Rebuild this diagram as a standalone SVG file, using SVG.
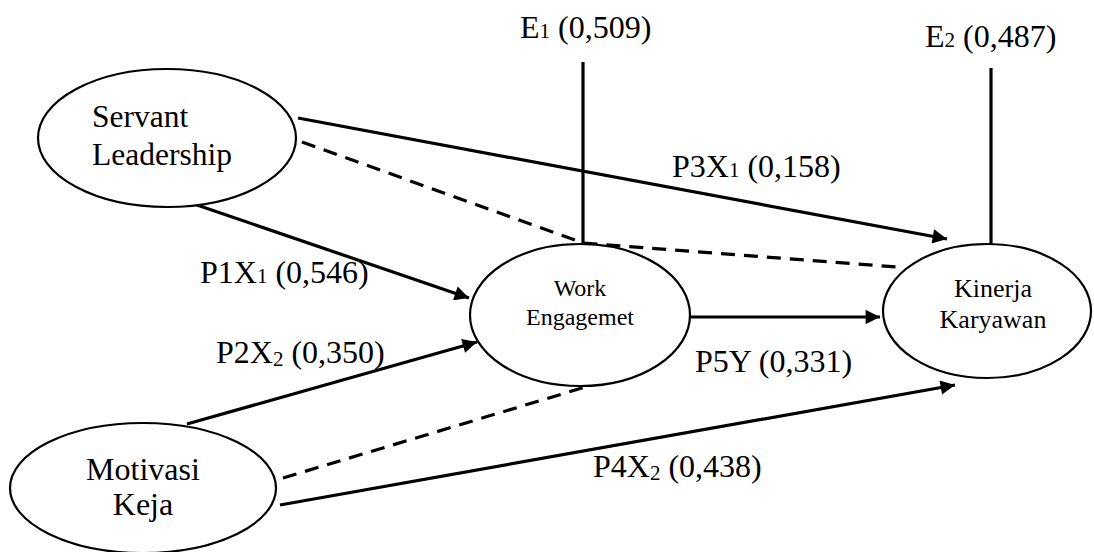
<svg xmlns="http://www.w3.org/2000/svg" width="1094" height="552" viewBox="0 0 1094 552">
<style>
.node{fill:#fff;stroke:#000;stroke-width:2.2}
.t{font-family:"Liberation Serif","Times New Roman",serif;fill:#000}
.lbl{font-size:32px}
.sub{font-size:21px}
.c{fill:none;stroke:#000;stroke-width:3.2}
.d{stroke-dasharray:14 9}
</style>
<defs>
<marker id="ah" viewBox="0 0 10 10" refX="10" refY="5" markerWidth="5.5" markerHeight="4.5" markerUnits="strokeWidth" orient="auto">
<path d="M0,0 L10,5 L0,10 z" fill="#000"/>
</marker>
</defs>
<g id="connectors">
<line class="c" x1="583" y1="62" x2="583" y2="243"/>
<line class="c" x1="991" y1="68" x2="991" y2="246"/>
<line class="c" x1="298" y1="118" x2="947" y2="239" marker-end="url(#ah)"/>
<polyline class="c d" points="302,142 583,243 897,267"/>
<line class="c" x1="197" y1="205" x2="469" y2="298" marker-end="url(#ah)"/>
<line class="c" x1="187" y1="424" x2="477" y2="342" marker-end="url(#ah)"/>
<line class="c d" x1="283" y1="478" x2="592" y2="385"/>
<line class="c" x1="280" y1="505" x2="955" y2="385" marker-end="url(#ah)"/>
<line class="c" x1="690" y1="317" x2="880" y2="317" marker-end="url(#ah)"/>
</g>
<g id="node-servant">
<ellipse class="node" cx="167" cy="138" rx="129" ry="69"/>
<text class="t" font-size="31.5" x="92" y="127">Servant</text>
<text class="t" font-size="31.5" x="92" y="165">Leadership</text>
</g>
<g id="node-work">
<ellipse class="node" cx="580" cy="315" rx="110" ry="71"/>
<text class="t" font-size="24" x="580" y="296" text-anchor="middle">Work</text>
<text class="t" font-size="24" x="580" y="325" text-anchor="middle">Engagemet</text>
</g>
<g id="node-kinerja">
<ellipse class="node" cx="987" cy="311" rx="104" ry="67"/>
<text class="t" font-size="26" x="993" y="297" text-anchor="middle">Kinerja</text>
<text class="t" font-size="26" x="993" y="328" text-anchor="middle">Karyawan</text>
</g>
<g id="node-motivasi">
<ellipse class="node" cx="143" cy="488" rx="133" ry="65"/>
<text class="t" font-size="32" x="143" y="480" text-anchor="middle">Motivasi</text>
<text class="t" font-size="32" x="143" y="515" text-anchor="middle">Keja</text>
</g>
<g id="labels">
<text class="t lbl" x="520" y="38">E<tspan class="sub">1</tspan> (0,509)</text>
<text class="t lbl" x="925" y="47">E<tspan class="sub">2</tspan> (0,487)</text>
<text class="t lbl" x="672" y="177">P3X<tspan class="sub">1</tspan> (0,158)</text>
<text class="t lbl" x="200" y="283">P1X<tspan class="sub">1</tspan> (0,546)</text>
<text class="t lbl" x="216" y="363">P2X<tspan class="sub" dy="3">2</tspan><tspan dy="-3"> (0,350)</tspan></text>
<text class="t lbl" x="695" y="372">P5Y (0,331)</text>
<text class="t lbl" x="593" y="477">P4X<tspan class="sub" dy="3">2</tspan><tspan dy="-3"> (0,438)</tspan></text>
</g>
</svg>
